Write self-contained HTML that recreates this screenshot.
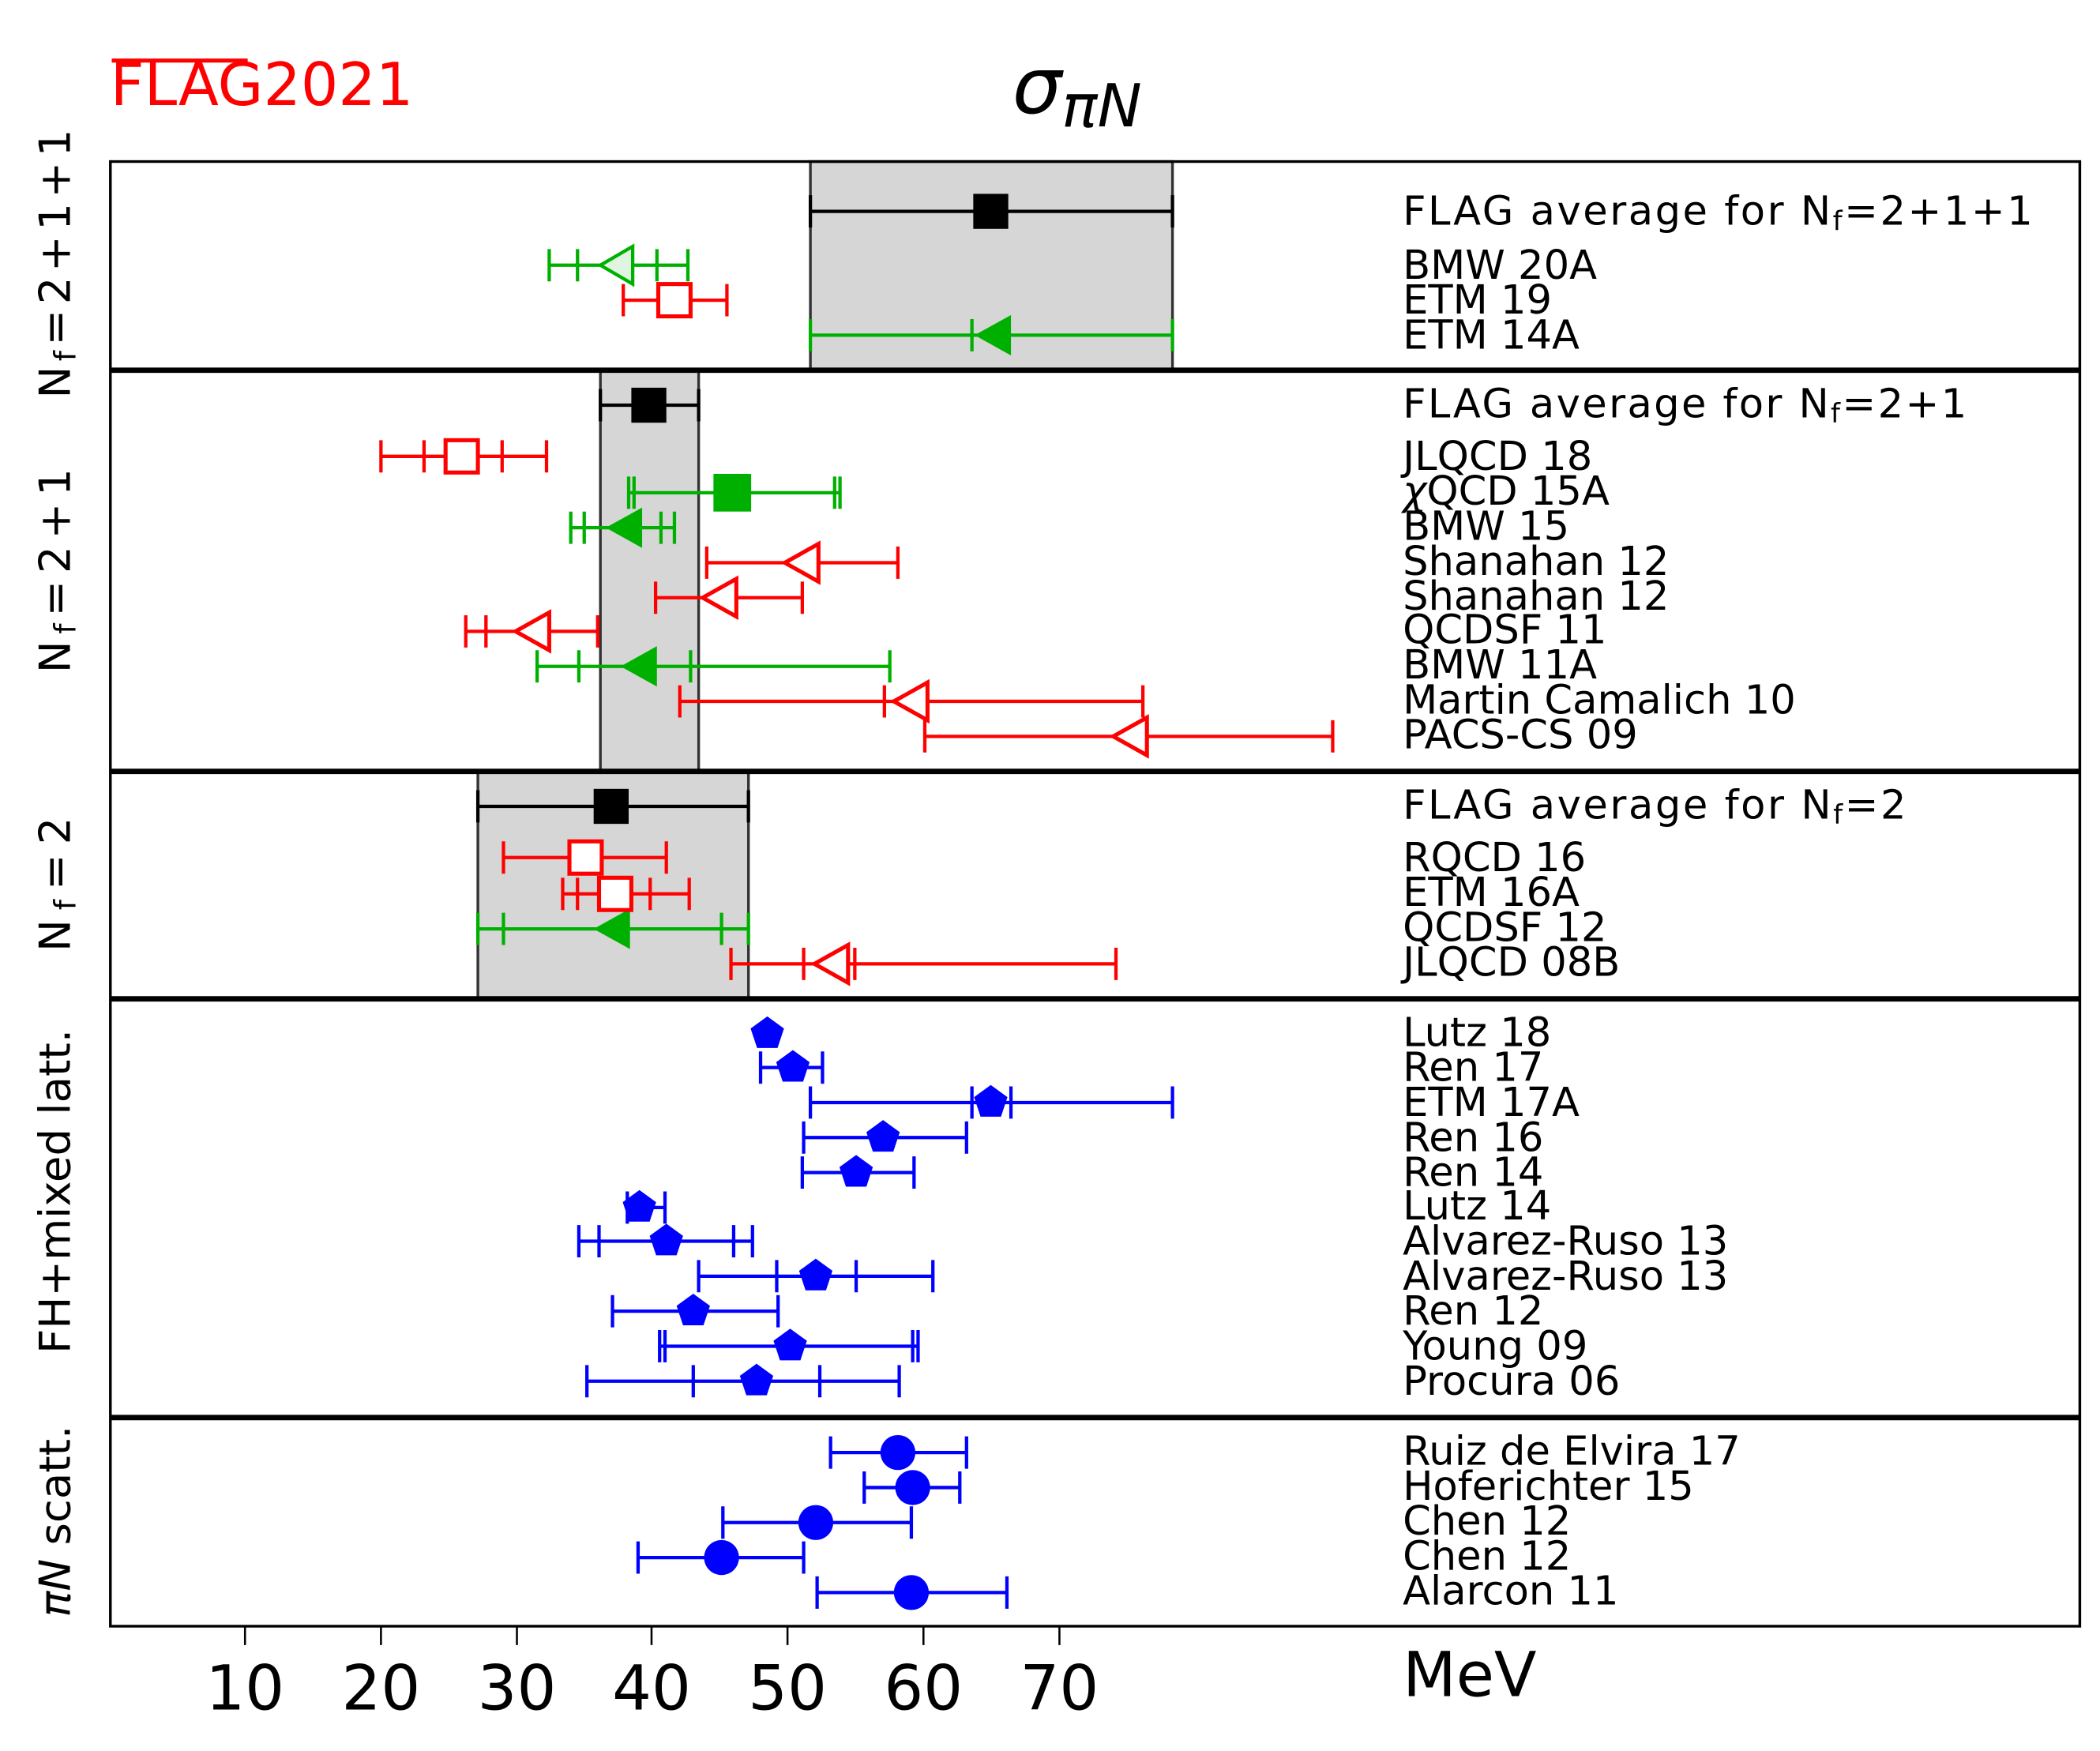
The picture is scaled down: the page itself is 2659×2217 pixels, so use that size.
<!DOCTYPE html>
<html><head><meta charset="utf-8"><style>html,body{margin:0;padding:0;background:#fff}svg{display:block}</style></head>
<body>
<svg width="2659" height="2217" viewBox="0 0 1560 1300.7" preserveAspectRatio="none" xmlns="http://www.w3.org/2000/svg" font-family="DejaVu Sans, Liberation Sans, sans-serif">
<rect x="0" y="0" width="1560" height="1301" fill="#fff"/>
<g fill="#d6d6d6" stroke="#333" stroke-width="2">
<rect x="602" y="120" width="269" height="155"/>
<rect x="446" y="275" width="73" height="298"/>
<rect x="355" y="573" width="201" height="169"/>
</g>
<rect x="82" y="120" width="1463" height="1088" fill="none" stroke="#000" stroke-width="2"/>
<g stroke="#000" stroke-width="4">
<line x1="82" y1="275" x2="1545" y2="275"/>
<line x1="82" y1="573" x2="1545" y2="573"/>
<line x1="82" y1="742" x2="1545" y2="742"/>
<line x1="82" y1="1053" x2="1545" y2="1053"/>
</g>
<g stroke="#000" stroke-width="1.5">
<line x1="182" y1="1208" x2="182" y2="1222"/><line x1="283" y1="1208" x2="283" y2="1222"/><line x1="384" y1="1208" x2="384" y2="1222"/><line x1="484" y1="1208" x2="484" y2="1222"/><line x1="585" y1="1208" x2="585" y2="1222"/><line x1="686" y1="1208" x2="686" y2="1222"/><line x1="787" y1="1208" x2="787" y2="1222"/>
</g>
<g font-size="46" text-anchor="middle" fill="#000">
<text x="182" y="1270">10</text><text x="283" y="1270">20</text><text x="384" y="1270">30</text><text x="484" y="1270">40</text><text x="585" y="1270">50</text><text x="686" y="1270">60</text><text x="787" y="1270">70</text>
</g>
<text x="1042" y="1260" font-size="46">MeV</text>
<text x="752" y="84" font-size="58" font-style="italic">σ<tspan font-size="44" dy="10">πN</tspan></text>
<text x="82" y="78" font-size="44" fill="#f00" textLength="225" lengthAdjust="spacingAndGlyphs">FLAG2021</text>
<line x1="83" y1="45" x2="184" y2="45" stroke="#f00" stroke-width="3"/>
<g font-size="32" fill="#000" text-anchor="middle">
<text transform="translate(52,196) rotate(-90)" textLength="200" lengthAdjust="spacing">N<tspan font-size="22" dy="4">f</tspan><tspan dy="-4">=2+1+1</tspan></text>
<text transform="translate(52,424) rotate(-90)" textLength="152" lengthAdjust="spacing">N<tspan font-size="22" dy="4">f</tspan><tspan dy="-4">=2+1</tspan></text>
<text transform="translate(52,657) rotate(-90)" textLength="100" lengthAdjust="spacing">N<tspan font-size="22" dy="4">f</tspan><tspan dy="-4">=2</tspan></text>
<text transform="translate(52,885) rotate(-90)">FH+mixed latt.</text>
<text transform="translate(52,1130) rotate(-90)"><tspan font-style="italic">πN</tspan> scatt.</text>
</g>
<g font-size="30" fill="#000">
<text x="1042" y="167" textLength="468" lengthAdjust="spacing">FLAG average for N<tspan font-size="20" dy="4">f</tspan><tspan dy="-4">=2+1+1</tspan></text>
<text x="1042" y="207">BMW 20A</text><text x="1042" y="233">ETM 19</text><text x="1042" y="259">ETM 14A</text>
<text x="1042" y="310" textLength="419" lengthAdjust="spacing">FLAG average for N<tspan font-size="20" dy="4">f</tspan><tspan dy="-4">=2+1</tspan></text>
<text x="1042" y="349">JLQCD 18</text><text x="1042" y="375"><tspan font-style="italic">χ</tspan>QCD 15A</text><text x="1042" y="401">BMW 15</text><text x="1042" y="427">Shanahan 12</text><text x="1042" y="453">Shanahan 12</text><text x="1042" y="478">QCDSF 11</text><text x="1042" y="504">BMW 11A</text><text x="1042" y="530">Martin Camalich 10</text><text x="1042" y="556">PACS-CS 09</text>
<text x="1042" y="608" textLength="374" lengthAdjust="spacing">FLAG average for N<tspan font-size="20" dy="4">f</tspan><tspan dy="-4">=2</tspan></text>
<text x="1042" y="647">RQCD 16</text><text x="1042" y="673">ETM 16A</text><text x="1042" y="699">QCDSF 12</text><text x="1042" y="725">JLQCD 08B</text>
<text x="1042" y="777">Lutz 18</text><text x="1042" y="803">Ren 17</text><text x="1042" y="829">ETM 17A</text><text x="1042" y="855">Ren 16</text><text x="1042" y="881">Ren 14</text><text x="1042" y="906">Lutz 14</text><text x="1042" y="932">Alvarez-Ruso 13</text><text x="1042" y="958">Alvarez-Ruso 13</text><text x="1042" y="984">Ren 12</text><text x="1042" y="1010">Young 09</text><text x="1042" y="1036">Procura 06</text>
<text x="1042" y="1088">Ruiz de Elvira 17</text><text x="1042" y="1114">Hoferichter 15</text><text x="1042" y="1140">Chen 12</text><text x="1042" y="1166">Chen 12</text><text x="1042" y="1192">Alarcon 11</text>
</g>
<g stroke="#000" stroke-width="2.5">
<path d="M602 157H871M602 145V169M871 145V169"/>
<path d="M446 301H519M446 289V313M519 289V313"/>
<path d="M355 599H556M355 587V611M556 587V611"/>
</g>
<g fill="#000"><rect x="723" y="144" width="26" height="26"/><rect x="469" y="288" width="26" height="26"/><rect x="441" y="586" width="26" height="26"/></g>
<g stroke="#00b000" stroke-width="2.5" fill="none">
<path d="M408 197H511M408 185V209M429 185V209M488 185V209M511 185V209"/>
<path d="M602 249H871M602 237V261M722 237V261M871 237V261"/>
<path d="M467 366H624M467 354V378M471 354V378M620 354V378M624 354V378"/>
<path d="M424 392H501M424 380V404M434 380V404M491 380V404M501 380V404"/>
<path d="M399 495H661M399 483V507M430 483V507M513 483V507M661 483V507"/>
<path d="M355 690H556M355 678V702M374 678V702M536 678V702M556 678V702"/>
</g>
<path d="M446 197L470 183V211Z" fill="#dff5df" stroke="#00b000" stroke-width="2.5"/>
<g fill="#00b000">
<path d="M724 249L751 234V264Z"/><rect x="530" y="352" width="28" height="28"/>
<path d="M450 392L477 377V407Z"/><path d="M461 495L488 480V510Z"/><path d="M441 690L468 675V705Z"/>
</g>
<g stroke="#f00" stroke-width="2.5" fill="none">
<path d="M463 223H540M463 211V235M540 211V235"/>
<path d="M283 339H406M283 327V351M315 327V351M373 327V351M406 327V351"/>
<path d="M525 418H667M525 406V430M667 406V430"/>
<path d="M487 444H596M487 432V456M596 432V456"/>
<path d="M346 469H444M346 457V481M361 457V481M406 457V481M444 457V481"/>
<path d="M505 521H849M505 509V533M657 509V533M688 509V533M849 509V533"/>
<path d="M687 547H990M687 535V559M990 535V559"/>
<path d="M374 637H495M374 625V649M495 625V649"/>
<path d="M418 664H512M418 652V676M429 652V676M483 652V676M512 652V676"/>
<path d="M543 716H829M543 704V728M597 704V728M635 704V728M829 704V728"/>
</g>
<g fill="#fff" stroke="#f00" stroke-width="3">
<rect x="489" y="211" width="24" height="24"/><rect x="331" y="327" width="24" height="24"/>
<path d="M583 418L608 404V432Z"/><path d="M522 444L547 430V458Z"/><path d="M383 469L408 455V483Z"/>
<path d="M664 521L689 507V535Z"/><path d="M827 547L852 533V561Z"/>
<rect x="423" y="625" width="24" height="24"/><rect x="445" y="652" width="24" height="24"/>
<path d="M605 716L630 702V730Z"/>
</g>
<g stroke="#00f" stroke-width="2.5" fill="none">
<path d="M565 793H611M565 781V805M611 781V805"/>
<path d="M602 819H871M602 807V831M722 807V831M751 807V831M871 807V831"/>
<path d="M597 845H718M597 833V857M718 833V857"/>
<path d="M596 871H679M596 859V883M679 859V883"/>
<path d="M466 897H494M466 885V909M494 885V909"/>
<path d="M430 922H559M430 910V934M445 910V934M545 910V934M559 910V934"/>
<path d="M519 948H693M519 936V960M577 936V960M636 936V960M693 936V960"/>
<path d="M455 974H578M455 962V986M578 962V986"/>
<path d="M490 1000H682M490 988V1012M494 988V1012M678 988V1012M682 988V1012"/>
<path d="M436 1026H668M436 1014V1038M515 1014V1038M609 1014V1038M668 1014V1038"/>
<path d="M617 1079H718M617 1067V1091M718 1067V1091"/>
<path d="M642 1105H713M642 1093V1117M713 1093V1117"/>
<path d="M537 1131H677M537 1119V1143M677 1119V1143"/>
<path d="M474 1157H597M474 1145V1169M597 1145V1169"/>
<path d="M607 1183H748M607 1171V1195M748 1171V1195"/>
</g>
<defs><path id="pg" d="M0 -13L12.4 -4L7.6 10.5H-7.6L-12.4 -4Z"/></defs>
<g fill="#00f">
<use href="#pg" x="570" y="768"/><use href="#pg" x="589" y="793"/><use href="#pg" x="736" y="819"/><use href="#pg" x="656" y="845"/><use href="#pg" x="636" y="871"/><use href="#pg" x="475" y="897"/><use href="#pg" x="495" y="922"/><use href="#pg" x="606" y="948"/><use href="#pg" x="515" y="974"/><use href="#pg" x="587" y="1000"/><use href="#pg" x="562" y="1026"/>
<circle cx="667" cy="1079" r="13"/><circle cx="678" cy="1105" r="13"/><circle cx="606" cy="1131" r="13"/><circle cx="536" cy="1157" r="13"/><circle cx="677" cy="1183" r="13"/>
</g>
</svg>
</body></html>
